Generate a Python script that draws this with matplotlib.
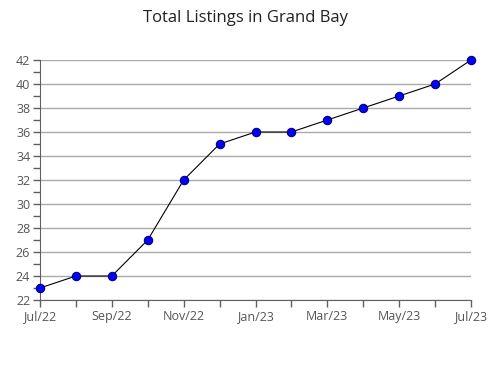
import matplotlib.pyplot as plt
from matplotlib.ticker import MultipleLocator

# Data
months = ['Jul/22', 'Aug/22', 'Sep/22', 'Oct/22', 'Nov/22', 'Dec/22', 'Jan/23',
          'Feb/23', 'Mar/23', 'Apr/23', 'May/23', 'Jun/23', 'Jul/23']
listings = [23, 24, 24, 27, 32, 35, 36, 36, 37, 38, 39, 40, 42]

plt.rcParams['font.family'] = ['Open Sans', 'DejaVu Sans']

fig = plt.figure(figsize=(4.9, 3.8), dpi=100)
ax = fig.add_axes([40 / 490, 80 / 380, 431 / 490, 240 / 380])

x = list(range(len(months)))
ax.plot(x, listings, color='black', linewidth=0.8, marker='o', markersize=6,
        markerfacecolor='#0000ff', markeredgecolor='#000080', markeredgewidth=0.8,
        zorder=3, clip_on=False)

ax.set_xlim(0, len(months) - 1)
ax.set_ylim(22, 42)

ax.set_xticks(x)
ax.set_xticklabels([m if i % 2 == 0 else '' for i, m in enumerate(months)])
ax.yaxis.set_major_locator(MultipleLocator(2))
ax.yaxis.set_minor_locator(MultipleLocator(1))

ax.grid(axis='y', which='major', color='#aaaaaa', linewidth=1)
ax.set_axisbelow(True)

for side in ['top', 'right']:
    ax.spines[side].set_visible(False)
for side in ['left', 'bottom']:
    ax.spines[side].set_color('#606060')

ax.tick_params(axis='both', which='both', colors='#606060', labelcolor='#555555',
               labelsize=9, length=5, width=1, pad=2)

fig.suptitle('Total Listings in Grand Bay', fontsize=12, color='#222222', y=0.975)

plt.savefig('out.png', dpi=100)
